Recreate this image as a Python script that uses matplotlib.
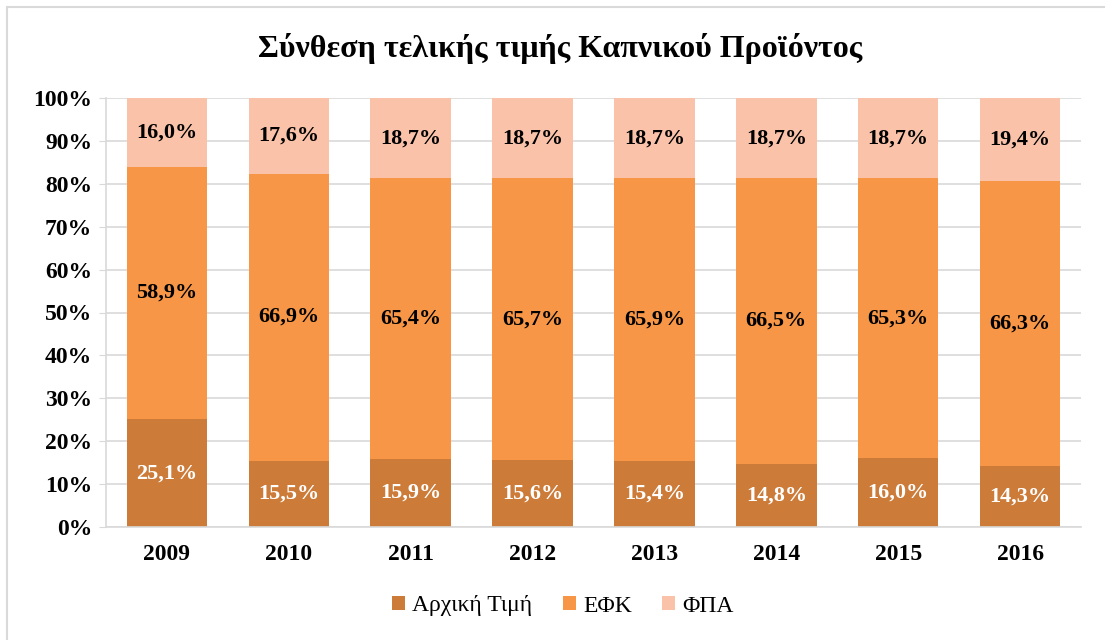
import matplotlib.pyplot as plt
import numpy as np
from matplotlib.patches import Rectangle

years = ["2009", "2010", "2011", "2012", "2013", "2014", "2015", "2016"]
initial_price = [25.1, 15.5, 15.9, 15.6, 15.4, 14.8, 16.0, 14.3]
efk = [58.9, 66.9, 65.4, 65.7, 65.9, 66.5, 65.3, 66.3]
fpa = [16.0, 17.6, 18.7, 18.7, 18.7, 18.7, 18.7, 19.4]
series_names = ["Αρχική Τιμή", "ΕΦΚ", "ΦΠΑ"]
colors = ["#CC7B39", "#F69646", "#FAC3A9"]
label_colors = ["white", "black", "black"]

plt.rcParams["font.family"] = ["Liberation Serif", "DejaVu Serif"]

fig = plt.figure(figsize=(11.05, 6.4), dpi=100)
ax = fig.add_axes([106 / 1105, 1 - 527 / 640, 975 / 1105, 429 / 640])

# light frame around the chart area
fig.patches.append(Rectangle((7 / 1105, -0.05), 1.2, 1 - 7 / 640 + 0.05,
                             transform=fig.transFigure, fill=False,
                             edgecolor="#D9D9D9", linewidth=1.5))

x = np.arange(len(years))
bottom = np.zeros(len(years))
for vals, name, col, lcol in zip([initial_price, efk, fpa], series_names, colors, label_colors):
    vals = np.array(vals)
    ax.bar(x, vals, 0.66, bottom=bottom, color=col, label=name, zorder=2)
    for xi, b, v in zip(x, bottom, vals):
        ax.text(xi, b + v / 2, f"{v:.1f}%".replace(".", ","), ha="center", va="center",
                fontsize=16, fontweight="bold", color=lcol, zorder=3)
    bottom += vals

ax.set_xlim(-0.5, len(years) - 0.5)
ax.set_ylim(0, 100)
ax.set_yticks(np.arange(0, 101, 10))
ax.set_yticklabels([f"{v}%" for v in range(0, 101, 10)], fontsize=17, fontweight="bold")
ax.set_xticks(x)
ax.set_xticklabels(years, fontsize=17, fontweight="bold")
ax.yaxis.grid(True, color="#D9D9D9", linewidth=1.2, zorder=0)
ax.set_axisbelow(True)
for s in ["top", "right"]:
    ax.spines[s].set_visible(False)
ax.spines["left"].set_color("#D9D9D9")
ax.spines["bottom"].set_color("#D9D9D9")
ax.spines["left"].set_linewidth(1.2)
ax.spines["bottom"].set_linewidth(1.2)
ax.tick_params(axis="y", length=5, color="#D9D9D9", pad=5)
ax.tick_params(axis="x", length=0, pad=12)

fig.text(560 / 1105, 1 - 48 / 640, "Σύνθεση τελικής τιμής Καπνικού Προϊόντος",
         ha="center", va="center", fontsize=23, fontweight="bold")

fig.legend(loc="center", bbox_to_anchor=(563 / 1105, 1 - 606 / 640), ncol=3,
           frameon=False, fontsize=17, handlelength=0.55, handleheight=0.55,
           handletextpad=0.3, columnspacing=1.3)

fig.savefig("out.png", dpi=100)
